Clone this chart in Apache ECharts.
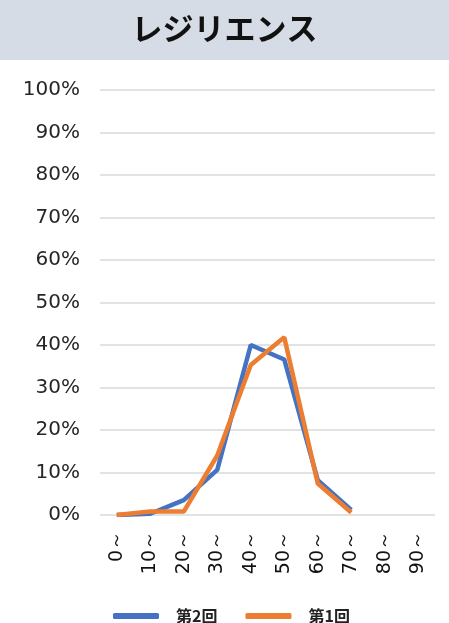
<!DOCTYPE html>
<html><head><meta charset="utf-8">
<script src="https://cdn.jsdelivr.net/npm/echarts@6/dist/echarts.min.js"></script>
<style>html,body{margin:0;padding:0;background:#fff}#c{width:449px;height:623px}</style>
</head><body><div id="c"></div>
<script>
const title = 'レジリエンス';
const categories = ['0～','10～','20～','30～','40～','50～','60～','70～','80～','90～'];
const series2 = [0, 0.3, 3.5, 10.6, 40, 36.6, 8.2, 1.2, null, null];
const series1 = [0, 0.8, 0.8, 14, 35.3, 41.8, 7.4, 0.6, null, null];
const seriesNames = ['第2回', '第1回'];

const chart = echarts.init(document.getElementById('c'));
chart.setOption({
  animation: false,
  graphic: [{type:'rect', left:0, top:0, shape:{width:449, height:60}, style:{fill:'#d6dce5'}, z:-1}],
  title: {text: title, left:'center', top:8, textStyle:{fontFamily:'Noto Sans CJK JP', fontWeight:'bold', fontSize:31, color:'#111'}},
  legend: {top: 603, left: 108, itemWidth: 46, itemHeight: 6, itemGap: 28,
    icon: 'roundRect',
    textStyle:{fontFamily:'Noto Sans CJK JP', fontWeight:'bold', fontSize:16, color:'#222', padding:[0,0,0,12]},
    data: seriesNames},
  grid: {left:100, right:14, top:90, bottom:108},
  xAxis: {type:'category', data: categories, boundaryGap:true,
    axisLine:{show:false}, axisTick:{show:false},
    axisLabel:{rotate:90, fontFamily:'DejaVu Sans', fontSize:19, color:'#111', margin:16}},
  yAxis: {type:'value', min:0, max:100, interval:10,
    axisLabel:{formatter:'{value}%', fontFamily:'DejaVu Sans', fontSize:20, color:'#262626', margin:20},
    splitLine:{lineStyle:{color:'#d9d9d9', width:1.5}}},
  series: [
    {name: seriesNames[0], type:'line', data: series2, symbol:'none', lineStyle:{color:'#4472c4', width:4.5}, itemStyle:{color:'#4472c4'}},
    {name: seriesNames[1], type:'line', data: series1, symbol:'none', lineStyle:{color:'#ed7d31', width:4.5}, itemStyle:{color:'#ed7d31'}}
  ]
});
</script></body></html>
